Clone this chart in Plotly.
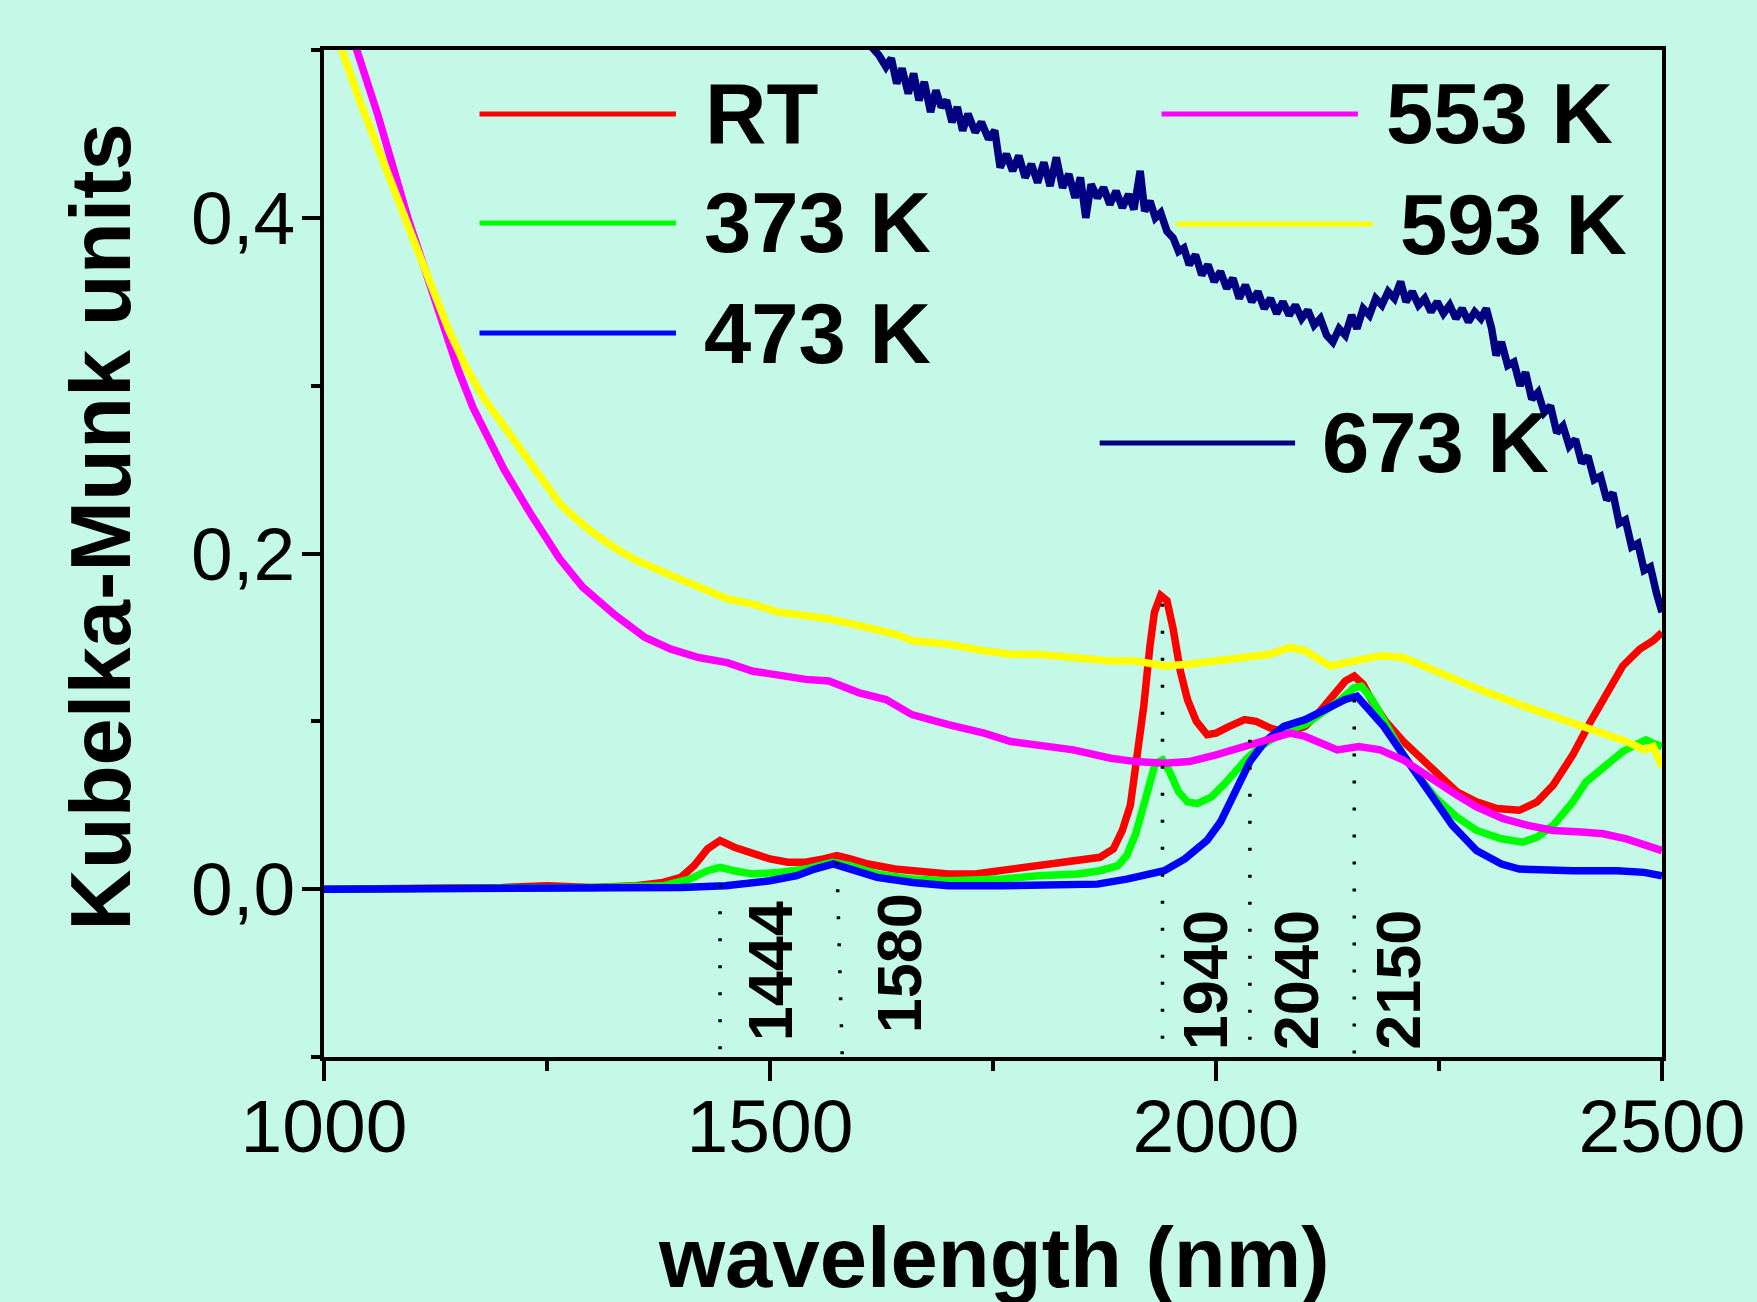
import plotly.graph_objects as go

# ---------------- data ----------------
rt_x = [1000, 1100, 1200, 1250, 1300, 1350, 1380, 1400, 1415, 1430, 1444, 1460, 1480, 1500, 1520, 1540,
        1560, 1575, 1590, 1610, 1640, 1670, 1700, 1730, 1760, 1800, 1840, 1870, 1885, 1895, 1904, 1912,
        1919, 1926, 1931, 1938, 1945, 1952, 1960, 1968, 1978, 1990, 2000, 2015, 2032, 2045, 2061, 2080,
        2100, 2115, 2130, 2145, 2155, 2165, 2175, 2190, 2210, 2230, 2247, 2270, 2292, 2315, 2340, 2360,
        2378, 2400, 2418, 2440, 2456, 2475, 2490, 2500]
rt_y = [0.0, 0.0, 0.001, 0.002, 0.001, 0.002, 0.004, 0.007, 0.014, 0.024, 0.029, 0.025, 0.021, 0.018, 0.016, 0.016,
        0.018, 0.020, 0.018, 0.015, 0.012, 0.010, 0.009, 0.009, 0.011, 0.014, 0.016, 0.019, 0.024, 0.035, 0.050, 0.080,
        0.109, 0.145, 0.165, 0.175, 0.172, 0.155, 0.130, 0.113, 0.100, 0.092, 0.093, 0.097, 0.101, 0.100, 0.096, 0.093,
        0.097, 0.105, 0.115, 0.124, 0.127, 0.122, 0.112, 0.100, 0.088, 0.078, 0.068, 0.058, 0.052, 0.048, 0.047, 0.052,
        0.062, 0.080, 0.098, 0.118, 0.133, 0.143, 0.148, 0.153]

k373_x = [1000, 1200, 1300, 1380, 1410, 1430, 1444, 1460, 1480, 1510, 1540, 1570, 1590, 1620, 1660, 1700,
          1760, 1800, 1845, 1870, 1890, 1900, 1910, 1919, 1926, 1932, 1940, 1948, 1958, 1968, 1979, 1995,
          2010, 2025, 2035, 2050, 2076, 2100, 2120, 2140, 2155, 2163, 2175, 2190, 2210, 2230, 2247, 2270,
          2292, 2320, 2344, 2360, 2378, 2400, 2415, 2440, 2456, 2470, 2482, 2490, 2500]
k373_y = [0.0, 0.0, 0.001, 0.002, 0.006, 0.011, 0.013, 0.011, 0.009, 0.010, 0.012, 0.016, 0.014, 0.009, 0.006, 0.005,
          0.006, 0.008, 0.009, 0.011, 0.014, 0.020, 0.033, 0.050, 0.065, 0.075, 0.077, 0.070, 0.058, 0.052, 0.051, 0.055,
          0.063, 0.072, 0.078, 0.085, 0.094, 0.098, 0.105, 0.113, 0.120, 0.121, 0.113, 0.098, 0.080, 0.065, 0.054, 0.043,
          0.035, 0.030, 0.028, 0.031, 0.038, 0.052, 0.064, 0.075, 0.082, 0.086, 0.089, 0.087, 0.085]

k473_x = [1000, 1200, 1300, 1400, 1450, 1500, 1530, 1550, 1571, 1590, 1620, 1660, 1700, 1760, 1800, 1845,
          1867, 1900, 1920, 1942, 1965, 1990, 2005, 2016, 2028, 2038, 2055, 2076, 2100, 2127, 2145, 2158,
          2170, 2188, 2210, 2240, 2265, 2292, 2320, 2340, 2370, 2400, 2450, 2480, 2500]
k473_y = [0.0, 0.0, 0.001, 0.001, 0.002, 0.005, 0.008, 0.012, 0.015, 0.012, 0.007, 0.004, 0.002, 0.002, 0.002, 0.002,
          0.003, 0.006, 0.008, 0.011, 0.018, 0.029, 0.040, 0.052, 0.065, 0.076, 0.088, 0.097, 0.101, 0.108, 0.113, 0.115,
          0.108, 0.097, 0.080, 0.058, 0.038, 0.023, 0.015, 0.012, 0.011, 0.011, 0.011, 0.010, 0.008]

k553_x = [1000, 1037, 1060, 1094, 1120, 1137, 1150, 1167, 1185, 1202, 1230, 1264, 1290, 1327, 1360, 1389,
          1420, 1452, 1480, 1510, 1540, 1566, 1600, 1630, 1659, 1700, 1740, 1770, 1800, 1840, 1882, 1910,
          1942, 1970, 2000, 2030, 2060, 2083, 2100, 2136, 2160, 2184, 2210, 2240, 2270, 2292, 2322, 2350,
          2378, 2410, 2434, 2460, 2480, 2500]
k553_y = [0.560, 0.500, 0.462, 0.400, 0.357, 0.330, 0.310, 0.287, 0.267, 0.250, 0.225, 0.197, 0.180, 0.163, 0.150, 0.143,
          0.138, 0.135, 0.130, 0.127, 0.125, 0.124, 0.117, 0.113, 0.104, 0.098, 0.093, 0.088, 0.086, 0.083, 0.078, 0.076,
          0.075, 0.076, 0.080, 0.085, 0.089, 0.093, 0.091, 0.083, 0.085, 0.083, 0.077, 0.066, 0.056, 0.049, 0.042, 0.038,
          0.035, 0.034, 0.033, 0.030, 0.027, 0.023]

k593_x = [1000, 1020, 1040, 1060, 1080, 1100, 1120, 1140, 1160, 1180, 1200, 1220, 1240, 1264, 1280, 1300,
          1327, 1350, 1389, 1420, 1452, 1480, 1510, 1540, 1566, 1600, 1640, 1660, 1700, 1740, 1770, 1800,
          1840, 1882, 1910, 1942, 1970, 2000, 2030, 2060, 2083, 2100, 2128, 2150, 2184, 2210, 2240, 2270,
          2300, 2340, 2378, 2410, 2434, 2460, 2480, 2490, 2500]
k593_y = [0.535, 0.500, 0.470, 0.442, 0.413, 0.388, 0.360, 0.333, 0.310, 0.292, 0.277, 0.262, 0.248, 0.230, 0.222, 0.213,
          0.203, 0.196, 0.187, 0.180, 0.173, 0.170, 0.165, 0.163, 0.161, 0.157, 0.152, 0.148, 0.146, 0.142, 0.140, 0.140,
          0.138, 0.136, 0.136, 0.133, 0.134, 0.136, 0.138, 0.140, 0.144, 0.142, 0.133, 0.135, 0.139, 0.138, 0.131, 0.124,
          0.118, 0.110, 0.103, 0.097, 0.092, 0.088, 0.083, 0.085, 0.073]

k673_x = [1600, 1608, 1615, 1622, 1630, 1636, 1642, 1648, 1655, 1661, 1667, 1673, 1680, 1686, 1692, 1698,
          1704, 1710, 1716, 1722, 1730, 1737, 1745, 1752, 1758, 1765, 1772, 1779, 1786, 1793, 1800, 1807,
          1814, 1821, 1828, 1835, 1842, 1848, 1854, 1860, 1867, 1874, 1881, 1888, 1895, 1902, 1908, 1915,
          1920, 1926, 1932, 1938, 1945, 1952, 1958, 1964, 1970, 1977, 1984, 1991, 1998, 2005, 2012, 2019,
          2026, 2033, 2040, 2047, 2054, 2061, 2068, 2075, 2082, 2089, 2096, 2103, 2110, 2117, 2124, 2131,
          2138, 2145, 2152, 2158, 2165, 2172, 2179, 2186, 2193, 2200, 2207, 2213, 2220, 2227, 2234, 2241,
          2248, 2255, 2262, 2269, 2276, 2283, 2290, 2297, 2303, 2309, 2314, 2320, 2327, 2334, 2341, 2347,
          2354, 2361, 2368, 2375, 2382, 2389, 2396, 2403, 2410, 2417, 2424, 2431, 2438, 2445, 2452, 2459,
          2466, 2473, 2480, 2487, 2494, 2500]
k673_y = [0.510, 0.505, 0.500, 0.497, 0.490, 0.495, 0.480, 0.489, 0.474, 0.486, 0.470, 0.481, 0.463, 0.476, 0.466, 0.470,
          0.457, 0.466, 0.452, 0.462, 0.451, 0.457, 0.447, 0.452, 0.430, 0.438, 0.428, 0.437, 0.424, 0.432, 0.421, 0.433,
          0.419, 0.436, 0.418, 0.426, 0.412, 0.424, 0.400, 0.420, 0.412, 0.418, 0.408, 0.416, 0.406, 0.414, 0.405, 0.428,
          0.404, 0.410, 0.400, 0.403, 0.392, 0.388, 0.380, 0.382, 0.372, 0.378, 0.366, 0.372, 0.362, 0.368, 0.358, 0.364,
          0.352, 0.360, 0.350, 0.356, 0.346, 0.352, 0.343, 0.350, 0.342, 0.348, 0.340, 0.345, 0.336, 0.340, 0.330, 0.326,
          0.334, 0.330, 0.342, 0.334, 0.346, 0.342, 0.352, 0.348, 0.356, 0.352, 0.362, 0.350, 0.356, 0.348, 0.352, 0.344,
          0.350, 0.343, 0.348, 0.340, 0.346, 0.338, 0.344, 0.340, 0.346, 0.334, 0.318, 0.326, 0.312, 0.314, 0.300, 0.308,
          0.292, 0.296, 0.284, 0.288, 0.272, 0.276, 0.264, 0.268, 0.254, 0.258, 0.244, 0.246, 0.232, 0.236, 0.218, 0.220,
          0.204, 0.206, 0.190, 0.192, 0.176, 0.165]

series_names = ["RT", "373 K", "473 K", "553 K", "593 K", "673 K"]
series_x = [rt_x, k373_x, k473_x, k553_x, k593_x, k673_x]
series_y = [rt_y, k373_y, k473_y, k553_y, k593_y, k673_y]

# band markers: label, x at top, y at top, x at bottom
band_labels = ["1444", "1580", "1940", "2040", "2150"]
band_x_top = [1444, 1575, 1940, 2038, 2155]
band_y_top = [0.003, 0.016, 0.170, 0.089, 0.113]
band_x_bottom = [1444, 1581, 1940, 2038, 2155]
band_label_x = [1501, 1645, 1987, 2089, 2204]
band_label_y = [-0.049, -0.044, -0.054, -0.054, -0.054]

x_ticks = [1000, 1500, 2000, 2500]
y_ticks = [0.0, 0.2, 0.4]
y_tick_text = ["0,0", "0,2", "0,4"]

# ---------------- style ----------------
colors = ["#FF0000", "#00FF00", "#0000FF", "#FF00FF", "#FFFF00", "#000080"]
widths = [7.5, 7.5, 7.5, 7.5, 7.5, 7.5]
BG = "#C3F9E6"
FONT = "Liberation Sans, Arial, sans-serif"

W, H = 1757, 1302
ML, MR, MT, MB = 324, 91, 50, 245
PW, PH = W - ML - MR, H - MT - MB


def px(xpix):
    return (xpix - ML) / PW


def py(ypix):
    return (H - MB - ypix) / PH


fig = go.Figure()

for nm, xs, ys, c, w in zip(series_names, series_x, series_y, colors, widths):
    fig.add_trace(go.Scatter(x=xs, y=ys, mode="lines", name=nm,
                             line=dict(color=c, width=w), showlegend=False))

for xt, yt, xb in zip(band_x_top, band_y_top, band_x_bottom):
    fig.add_trace(go.Scatter(x=[xt, xb], y=[yt, -0.1], mode="lines", showlegend=False,
                             line=dict(color="black", width=3.5, dash="3px,24px")))

annotations = []
for lab, lx, ly in zip(band_labels, band_label_x, band_label_y):
    annotations.append(dict(x=lx, y=ly, xref="x", yref="y", text=lab, textangle=-90,
                            showarrow=False, xanchor="center", yanchor="middle",
                            font=dict(family=FONT, size=63, color="black", weight="bold")))

# legend (custom layout like the original)
legend_items = [
    # name, line x0, line x1, y, text left
    ("RT", 480, 677, 114, 704),
    ("373 K", 480, 677, 223, 703),
    ("473 K", 480, 677, 333, 703),
    ("553 K", 1164, 1361, 114, 1387),
    ("593 K", 1179, 1376, 224, 1401),
    ("673 K", 1102, 1298, 443, 1323),
]
legend_colors = {n: c for n, c in zip(series_names, colors)}
shapes = []
for nm, x0, x1, yy, tx in legend_items:
    shapes.append(dict(type="line", xref="paper", yref="paper", x0=px(x0), x1=px(x1),
                       y0=py(yy), y1=py(yy), line=dict(color=legend_colors[nm], width=5)))
    annotations.append(dict(x=px(tx), y=py(yy), xref="paper", yref="paper", text=nm,
                            showarrow=False, xanchor="left", yanchor="middle",
                            font=dict(family=FONT, size=85, color="black", weight="bold")))

# axis titles
annotations.append(dict(x=px(99), y=py(527), xref="paper", yref="paper", text="Kubelka-Munk units",
                        textangle=-90, showarrow=False, xanchor="center", yanchor="middle",
                        font=dict(family=FONT, size=85, color="black", weight="bold")))
annotations.append(dict(x=px(996), y=py(1257), xref="paper", yref="paper", text="wavelength (nm)",
                        showarrow=False, xanchor="center", yanchor="middle",
                        font=dict(family=FONT, size=85, color="black", weight="bold")))

fig.update_layout(
    width=W, height=H,
    margin=dict(l=ML, r=MR, t=MT, b=MB, pad=0),
    paper_bgcolor=BG, plot_bgcolor=BG,
    showlegend=False,
    shapes=shapes, annotations=annotations,
    font=dict(family=FONT, color="black"),
)
fig.update_xaxes(range=[1000, 2500], tickvals=x_ticks, ticktext=[str(v) for v in x_ticks],
                 showgrid=False, zeroline=False, showline=True, mirror=True,
                 linecolor="black", linewidth=3.5, ticks="outside", ticklen=20, tickwidth=3.5,
                 tickcolor="black", tickfont=dict(family=FONT, size=75, color="black"),
                 ticklabelstandoff=-19,
                 minor=dict(tickvals=[1250, 1750, 2250], ticks="outside", ticklen=10,
                            tickwidth=3.5, tickcolor="black", showgrid=False))
fig.update_yaxes(range=[-0.1, 0.5], tickvals=y_ticks, ticktext=y_tick_text,
                 showgrid=False, zeroline=False, showline=True, mirror=True,
                 linecolor="black", linewidth=3.5, ticks="outside", ticklen=18, tickwidth=3.5,
                 tickcolor="black", tickfont=dict(family=FONT, size=75, color="black"),
                 ticklabelstandoff=-8,
                 minor=dict(tickvals=[-0.1, 0.1, 0.3, 0.5], ticks="outside", ticklen=9,
                            tickwidth=3.5, tickcolor="black", showgrid=False))

fig.write_html("out.html")
